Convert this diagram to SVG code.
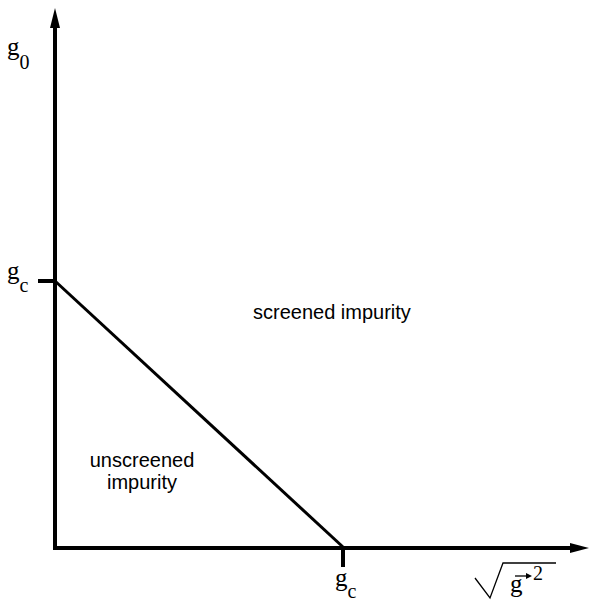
<svg xmlns="http://www.w3.org/2000/svg" width="590" height="602" viewBox="0 0 590 602">
<defs>
<style>
.ax{stroke:#000;stroke-width:4;fill:none}
.ln{stroke:#000;stroke-width:3;fill:none}
.lab{font-family:"Liberation Serif","Times New Roman",serif;font-size:25px;fill:#000}
.sub{font-family:"Liberation Serif","Times New Roman",serif;font-size:20px;fill:#000}
.reg{font-family:"Liberation Sans",Arial,sans-serif;font-size:20px;fill:#000}
</style>
</defs>
<rect width="590" height="602" fill="#fff"/>
<g id="connectors">
<line class="ax" x1="55" y1="550" x2="55" y2="24"/>
<polygon points="55,8 50,28 60,28" fill="#000"/>
<line class="ax" x1="53" y1="548" x2="574" y2="548"/>
<polygon points="589,548 570,543 570,553" fill="#000"/>
<line class="ax" x1="38" y1="281" x2="55" y2="281"/>
<line class="ax" x1="343" y1="548" x2="343" y2="567"/>
<line class="ln" x1="55" y1="281" x2="343" y2="547"/>
</g>
<g id="y-label">
<text class="lab" x="7" y="55">g<tspan class="sub" dy="14">0</tspan></text>
</g>
<g id="gc-y">
<text class="lab" x="7" y="279">g<tspan class="sub" dy="13">c</tspan></text>
</g>
<g id="gc-x">
<text class="lab" x="335" y="586">g<tspan class="sub" dy="12">c</tspan></text>
</g>
<g id="x-label">
<path d="M475,578 L490,598 L503,563 L556,563" stroke="#000" stroke-width="1.3" fill="none"/>
<text class="lab" x="510" y="592">g</text>
<line x1="515" y1="576" x2="527" y2="576" stroke="#000" stroke-width="1.3"/>
<polygon points="532,576 526,573 526,579" fill="#000"/>
<text class="sub" x="533" y="580">2</text>
</g>
<g id="screened">
<text class="reg" x="253" y="319">screened impurity</text>
</g>
<g id="unscreened">
<text class="reg" x="142" y="467" text-anchor="middle">unscreened</text>
<text class="reg" x="142" y="489" text-anchor="middle">impurity</text>
</g>
</svg>
